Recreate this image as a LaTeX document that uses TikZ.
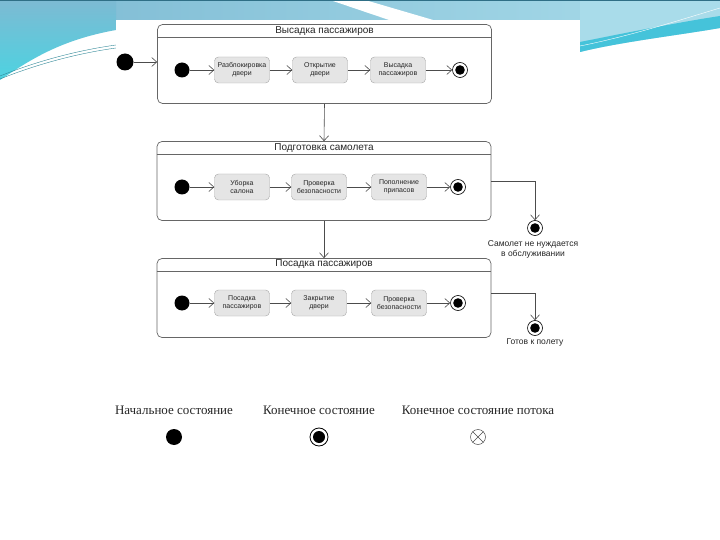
\documentclass[tikz,border=0pt]{standalone}
\usepackage{fontspec}
\setmainfont{Liberation Serif}
\newfontfamily\diafont{Liberation Sans}
\usetikzlibrary{arrows.meta}
\definecolor{bandA}{HTML}{7DBAD3}
\definecolor{bandB}{HTML}{A9DCEA}
\definecolor{swoosh}{HTML}{4CD3E1}
\definecolor{stripe}{HTML}{45C3DA}
\definecolor{rim}{HTML}{2F6F86}

\begin{document}
\begin{tikzpicture}[x=1pt,y=-1pt,
  every node/.style={font=\diafont\fontsize{7}{8}\selectfont, text=black!85},
  comp/.style={draw=black!60, rounded corners=5pt, minimum width=334pt, minimum height=79pt, inner sep=0pt, line width=0.7pt},
  act/.style={draw=black!35, fill=black!10, rounded corners=4pt, minimum width=55pt, minimum height=26pt, align=center, inner sep=1pt},
  ini/.style={circle, fill=black, minimum size=15pt, inner sep=0pt},
  fin/.style={circle, draw=black, line width=0.6pt, fill=white, minimum size=15pt, inner sep=0pt,
    path picture={\fill[black] (path picture bounding box.center) circle (4.8pt);}},
  flw/.style={-{Straight Barb[length=5pt,width=9pt]}, draw=black!70, line width=0.6pt},
  ttl/.style={font=\diafont\fontsize{10}{12}\selectfont},
  lbl/.style={font=\diafont\fontsize{8.5}{10}\selectfont},
  lgd/.style={font=\fontsize{13}{15}\selectfont}
]
\useasboundingbox (0,0) rectangle (720,540);
\fill[white] (0,0) rectangle (720,540);
\shade[left color=bandA, right color=bandB] (0,0) rectangle (720,22);
\shade[top color=bandA, bottom color=swoosh] (0,0) -- (116,0) -- (116,30) .. controls (60,40) and (30,60) .. (0,80) -- cycle;
\fill[white] (330,0) -- (365,0) -- (440,22) -- (395,22) -- cycle;
\fill[bandB] (580,0) -- (720,0) -- (720,28) .. controls (680,35) and (620,42) .. (580,52) -- cycle;
\fill[stripe] (580,42) .. controls (620,34) and (680,22) .. (720,16) -- (720,28) .. controls (680,35) and (620,42) .. (580,52) -- cycle;
\draw[stripe!70!black, line width=0.4pt] (0,76) .. controls (40,60) and (80,50) .. (116,45);
\draw[stripe!70!black, line width=0.4pt] (0,79) .. controls (40,63) and (80,53) .. (116,48);
\draw[white, line width=0.4pt] (580,46) .. controls (630,36) and (680,20) .. (720,8);
\draw[rim, line width=1.5pt] (0,0.75) -- (720,0.75);
\fill[white] (116,20) rectangle (580,348);

\node[ini, minimum size=17pt] (i0) at (125,62) {};

\node[comp] (c1) at (324.5,64) {};
\node[ttl] (t1) at (324.5,31) {Высадка пассажиров};
\draw[black!60, line width=0.7pt] ([yshift=-13pt]c1.north west) -- ([yshift=-13pt]c1.north east);
\node[ini] (s1) at (182,70) {};
\node[act] (a11) at (242,70) {Разблокировка\\двери};
\node[act] (a12) at (320,70) {Открытие\\двери};
\node[act] (a13) at (398,70) {Высадка\\пассажиров};
\node[fin] (e1) at (460,70) {};

\node[comp] (c2) at (324,181) {};
\node[ttl] (t2) at (324,148) {Подготовка самолета};
\draw[black!60, line width=0.7pt] ([yshift=-13pt]c2.north west) -- ([yshift=-13pt]c2.north east);
\node[ini] (s2) at (182,187) {};
\node[act] (a21) at (242,187) {Уборка\\салона};
\node[act] (a22) at (319,187) {Проверка\\безопасности};
\node[act] (a23) at (399,187) {Пополнение\\припасов};
\node[fin] (e2) at (458,187) {};

\node[comp] (c3) at (324,298) {};
\node[ttl] (t3) at (324,264) {Посадка пассажиров};
\draw[black!60, line width=0.7pt] ([yshift=-13pt]c3.north west) -- ([yshift=-13pt]c3.north east);
\node[ini] (s3) at (182,303) {};
\node[act] (a31) at (242,303) {Посадка\\пассажиров};
\node[act] (a32) at (319,303) {Закрытие\\двери};
\node[act] (a33) at (399,303) {Проверка\\безопасности};
\node[fin] (e3) at (458,303) {};

\node[fin] (f2) at (535,228) {};
\node[lbl, align=center] (n2) at (533,249) {Самолет не нуждается\\в обслуживании};
\node[fin] (f3) at (535,328) {};
\node[lbl] (n3) at (535,342) {Готов к полету};

\draw[flw] (i0) -- (c1.west |- i0);
\draw[flw] (s1) -- (a11);
\draw[flw] (a11) -- (a12);
\draw[flw] (a12) -- (a13);
\draw[flw] (a13) -- (e1);
\draw[flw] (c1.south) -- (c2.north);
\draw[flw] (s2) -- (a21);
\draw[flw] (a21) -- (a22);
\draw[flw] (a22) -- (a23);
\draw[flw] (a23) -- (e2);
\draw[flw] (c2.south) -- (c3.north);
\draw[flw] (s3) -- (a31);
\draw[flw] (a31) -- (a32);
\draw[flw] (a32) -- (a33);
\draw[flw] (a33) -- (e3);
\draw[flw] (c2.east) -| (f2);
\draw[flw] ([yshift=5pt]c3.east) -| (f3);

\node[lgd] (l1) at (174,410) {Начальное состояние};
\node[lgd] (l2) at (319,410) {Конечное состояние};
\node[lgd] (l3) at (478,410) {Конечное состояние потока};
\node[ini, minimum size=16pt] (g1) at (174,437) {};
\node[fin, minimum size=18pt, line width=0.8pt, path picture={\fill[black] (path picture bounding box.center) circle (6pt);}] (g2) at (319,437) {};
\node[circle, draw=black!70, line width=0.5pt, minimum size=15pt, inner sep=0pt,
  path picture={\draw[black!70, line width=0.5pt] (path picture bounding box.south west) -- (path picture bounding box.north east) (path picture bounding box.north west) -- (path picture bounding box.south east);}] (g3) at (478,437) {};
\end{tikzpicture}
\end{document}
